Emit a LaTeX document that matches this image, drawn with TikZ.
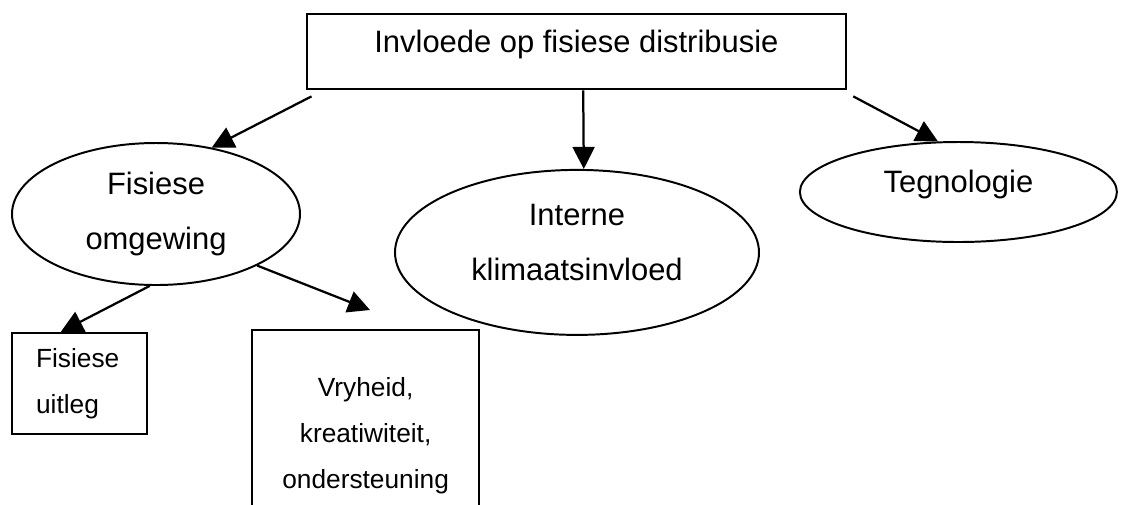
\documentclass[tikz,border=0pt]{standalone}
\usepackage{fontspec}
\setmainfont{Liberation Sans}
\usetikzlibrary{arrows.meta, shapes.geometric}

\begin{document}
\begin{tikzpicture}[
    big/.style={font=\fontsize{22}{39}\selectfont},
    small/.style={font=\fontsize{18.7}{32.7}\selectfont},
    topbox/.style={draw, line width=1.8pt, inner sep=0pt, minimum width=13.48cm,
                   text height=0.95cm, text depth=0.925cm, big},
    oval/.style={draw, ellipse, line width=1.4pt, inner sep=0pt, align=center, big},
    leaf/.style={draw, line width=1.8pt, small},
    arr/.style={-{Triangle[length=0.55cm, width=0.55cm]}, line width=1.6pt}
  ]
    \useasboundingbox (0,0) rectangle (28.05,-12.6);
    \clip (0,0) rectangle (28.05,-12.6);

    \node[topbox] (title) at (14.41,-1.29) {Invloede op fisiese distribusie};

    \node[oval, minimum width=7.2cm, minimum height=3.55cm]    (omg)    at (3.9,-5.35)    {Fisiese\\omgewing};
    \node[oval, minimum width=9.1cm, minimum height=4.125cm]   (intern) at (14.425,-6.31) {Interne\\klimaatsinvloed\rule[-0.5cm]{0pt}{0pt}};
    \node[oval, minimum width=7.925cm, minimum height=2.5cm]   (tegno)  at (23.96,-4.8)   {Tegnologie\rule[-0.55cm]{0pt}{0pt}};

    \node[leaf, align=left, text width=2.175cm, inner xsep=0.6cm,
          minimum height=2.525cm] (uitleg) at (1.99,-9.59) {Fisiese\\uitleg};
    \node[leaf, align=center, minimum width=5.675cm,
          minimum height=5.3cm] (vry) at (9.14,-10.9) {Vryheid,\\kreatiwiteit,\\ondersteuning};

    \coordinate (vryend) at (9.25,-7.75);

    \draw[arr] ([shift={(0.15,-0.15)}]title.south west) -- (omg.50);
    \draw[arr] ([xshift=0.17cm]title.south) -- ([xshift=0.17cm]intern.north);
    \draw[arr] ([shift={(0.15,-0.15)}]title.south east) -- (tegno.112);
    \draw[arr] (omg.265) -- ([xshift=1.25cm]uitleg.north west);
    \draw[arr] (omg.-27) -- (vryend);
  \end{tikzpicture}
\end{document}
